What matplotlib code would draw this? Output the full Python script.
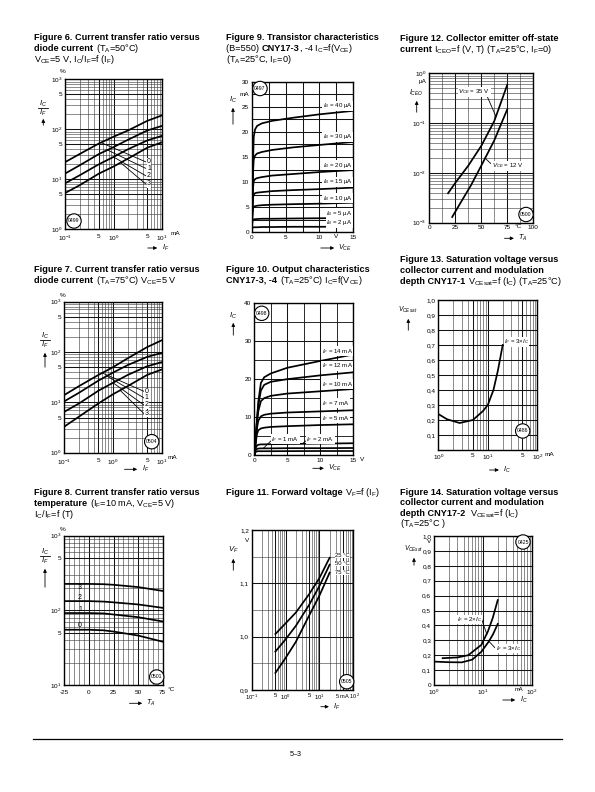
import numpy as np
import matplotlib
matplotlib.use('Agg')
import matplotlib.pyplot as plt
from matplotlib.ticker import FixedLocator, FixedFormatter, NullFormatter, LogLocator, MultipleLocator
from matplotlib.transforms import blended_transform_factory
from matplotlib.patches import FancyArrowPatch
from matplotlib.lines import Line2D

# ---------------- data ----------------
# Figure 6: CTR vs I_F at 50 C (groups 0..3)
f6_if = [0.1, 0.2, 0.5, 1, 2, 5, 10]
f6_ctr0 = [22, 32, 52, 71, 95, 148, 190]
f6_ctr1 = [13, 19, 32, 44, 62, 95, 117]
f6_ctr2 = [8.3, 12, 20, 28, 40, 60, 74]
f6_ctr3 = [5.3, 7.6, 13, 18, 26, 43, 55]
f6_groups = ['0', '1', '2', '3']

# Figure 7: CTR vs I_F at 75 C
f7_if = [0.1, 0.2, 0.5, 1, 2, 5, 10]
f7_ctr0 = [14, 21, 35, 50, 75, 125, 171]
f7_ctr1 = [10.5, 15.5, 27, 39, 55, 80, 96]
f7_ctr2 = [6.5, 9.5, 17, 24.5, 35, 52, 63]
f7_ctr3 = [3.3, 5.2, 9.5, 14.5, 21, 35, 45]
f7_groups = ['0', '1', '2', '3']

# Figure 8: CTR vs temperature
f8_t = [-25, 0, 15, 25, 50, 75]
f8_ctr3 = [226, 226, 224, 220, 205, 182]
f8_ctr2 = [133, 133, 131, 128, 120, 108]
f8_ctr1 = [92, 92, 91, 88, 81, 71]
f8_ctr0 = [55, 55, 54, 52, 46, 38]
f8_groups = ['3', '2', '1', '0']

# Figure 9: transistor characteristics I_C vs V_CE
f9_vce = [0, 0.1, 0.2, 0.3, 0.5, 0.8, 1.5, 3, 6, 10, 15]
f9_ib40 = [0, 6, 14, 19, 20.5, 21.2, 21.7, 22.2, 22.8, 23.5, 24.2]
f9_ib30 = [0, 6, 12, 14.5, 15.3, 15.7, 16.0, 16.4, 16.9, 17.4, 18.0]
f9_ib20 = [0, 5, 9, 10.2, 10.6, 10.8, 11.0, 11.3, 11.6, 12.0, 12.4]
f9_ib15 = [0, 4, 7, 7.5, 7.8, 7.9, 8.0, 8.2, 8.4, 8.6, 8.9]
f9_ib10 = [0, 3, 4.8, 5.1, 5.2, 5.3, 5.4, 5.5, 5.6, 5.7, 5.9]
f9_ib5 = [0, 2, 2.5, 2.6, 2.6, 2.65, 2.7, 2.7, 2.75, 2.8, 2.85]
f9_ib2 = [0, 0.9, 1.0, 1.0, 1.0, 1.0, 1.05, 1.05, 1.1, 1.1, 1.1]
f9_ib_labels = ['40', '30', '20', '15', '10', '5', '2']

# Figure 10: output characteristics
f10_vce = [0, 0.2, 0.4, 0.6, 1, 1.5, 2.5, 5, 10, 15]
f10_if14 = [0, 4, 9, 14, 19, 20.5, 21.5, 23, 24.8, 26.5]
f10_if12 = [0, 4, 9, 13, 17, 18.5, 19.3, 20.0, 21.0, 21.8]
f10_if10 = [0, 4, 8.5, 11.5, 14.2, 15.0, 15.6, 16.2, 16.8, 17.4]
f10_if7 = [0, 3.5, 7, 9, 10.2, 10.6, 10.9, 11.2, 11.5, 11.8]
f10_if5 = [0, 3, 5.5, 6.5, 7.0, 7.2, 7.4, 7.6, 7.9, 8.1]
f10_if2 = [0, 1.8, 2.5, 2.7, 2.8, 2.8, 2.85, 2.9, 3.0, 3.1]
f10_if1 = [0, 1.2, 1.6, 1.7, 1.75, 1.75, 1.75, 1.8, 1.8, 1.85]
f10_if05 = [0, 0.8, 0.95, 1.0, 1.0, 1.0, 1.0, 1.02, 1.05, 1.05]
f10_labels = ['14', '12', '10', '7', '5']

# Figure 11: forward voltage
f11_if = [0.5, 1, 2, 5, 10, 20]
f11_v25 = [1.005, 1.025, 1.045, 1.08, 1.11, 1.148]
f11_v50 = [0.972, 0.995, 1.02, 1.06, 1.095, 1.135]
f11_v75 = [0.932, 0.96, 0.99, 1.04, 1.077, 1.12]
f11_temps = ['25 °C', '50 °C', '75 °C']

# Figure 12: collector emitter off-state current
f12_t35 = [18, 25, 37.5, 50, 62.5, 75]
f12_i35 = [0.0039, 0.0063, 0.014, 0.035, 0.11, 0.59]
f12_t12 = [22, 30, 40, 50, 62.5, 75]
f12_i12 = [0.0013, 0.0025, 0.0056, 0.014, 0.045, 0.19]

# Figure 13: saturation voltage CNY17-1
f13_ic = [1, 1.5, 2.7, 5, 8, 10, 13, 16, 20]
f13_v = [0.24, 0.205, 0.18, 0.2, 0.26, 0.3, 0.4, 0.53, 0.7]

# Figure 14: saturation voltage CNY17-2
f14_ic2 = [1.5, 3, 5, 9.3, 12.6, 15.8, 20]
f14_v2 = [0.18, 0.185, 0.2, 0.27, 0.36, 0.45, 0.57]
f14_ic3 = [1, 2, 3.7, 6, 9.3, 13, 16, 20]
f14_v3 = [0.157, 0.153, 0.152, 0.17, 0.224, 0.29, 0.34, 0.41]

# ---------------- setup ----------------
W, H = 595, 792
plt.rcParams['font.family'] = ['Liberation Sans', 'DejaVu Sans']
plt.rcParams['mathtext.fontset'] = 'custom'
plt.rcParams['mathtext.rm'] = 'Liberation Sans'
plt.rcParams['mathtext.it'] = 'Liberation Sans:italic'
plt.rcParams['mathtext.bf'] = 'Liberation Sans:bold'

fig = plt.figure(figsize=(W / 100, H / 100), dpi=100)
renderer = fig.canvas.get_renderer()

TS = 6.6      # title font size
TL = 4.6      # tick label size
LS = 4.4      # in-plot label size


def P(x, y):
    return (x / W, 1 - y / H)


def sub(s):
    return r'$_\mathregular{' + s + '}$'


def pw(e):
    return r'10$^{\mathregular{' + str(e) + '}}$'


def twidth(s, weight, size):
    t = fig.text(0, 0, s + '|', fontsize=size, fontweight=weight)
    w1 = t.get_window_extent(renderer).width
    t.set_text('|')
    w2 = t.get_window_extent(renderer).width
    t.remove()
    return w1 - w2


def rich(x, y, parts, size=TS):
    for s, w in parts:
        fig.text(*P(x, y), s, fontsize=size, fontweight=w, va='baseline', ha='left')
        x += twidth(s, w, size)


def title(x, y, lines, dy=11.2):
    for i, ln in enumerate(lines):
        rich(x, y + i * dy, ln)


def add_ax(l, t, r, b):
    return fig.add_axes([l / W, 1 - b / H, (r - l) / W, (b - t) / H])


def style(ax):
    ax.tick_params(which='both', length=0, labelsize=TL, pad=2)
    for s in ax.spines.values():
        s.set_linewidth(1.0)
    ax.grid(which='major', color='0.08', lw=0.75)
    ax.grid(which='minor', color='0.2', lw=0.4)
    ax.set_axisbelow(True)


def logminor(axis):
    axis.set_minor_locator(LogLocator(base=10, subs=np.arange(2, 10)))
    axis.set_minor_formatter(NullFormatter())


def set_ticks(axis, vals, labs):
    axis.set_major_locator(FixedLocator(vals))
    axis.set_major_formatter(FixedFormatter(labs))


def arrow(x0, y0, x1, y1):
    fig.add_artist(FancyArrowPatch(P(x0, y0), P(x1, y1), transform=fig.transFigure,
                                   arrowstyle='-|>', mutation_scale=5, lw=0.6, color='k'))


def xlabel(x0, x1, y, txt):
    arrow(x0, y, x1, y)
    fig.text(*P(x1 + 1.5, y), txt, fontsize=5.2, ha='left', va='center')


def ylabel(x, y, txt, y0, y1, size=5.6):
    fig.text(*P(x, y), txt, fontsize=size, ha='center', va='center')
    arrow(x, y0, x, y1)


def frac_label(x, y, y0, y1):
    fig.text(*P(x, y - 4.2), r'$I_C$', fontsize=5.6, ha='center', va='center')
    fig.add_artist(Line2D([(x - 5) / W, (x + 5) / W], [1 - y / H] * 2, color='k', lw=0.6,
                          transform=fig.transFigure))
    fig.text(*P(x, y + 4.6), r'$I_F$', fontsize=5.6, ha='center', va='center')
    arrow(x, y0, x, y1)


def circ(x, y, txt):
    fig.text(*P(x, y), txt, fontsize=3.7, ha='center', va='center',
             bbox=dict(boxstyle='circle,pad=0.28', fc='white', ec='k', lw=0.8), zorder=10)


def xunit(ax, xd, txt, size=TL, ha='left'):
    tr = blended_transform_factory(ax.transData, ax.transAxes)
    ax.text(xd, -0.012, txt, transform=tr, fontsize=size, ha=ha, va='top')


def yunit(ax, yd, txt):
    tr = blended_transform_factory(ax.transAxes, ax.transData)
    ax.text(-0.025, yd, txt, transform=tr, fontsize=TL, ha='right', va='center')


def on_curve_log(x0, xs, ys):
    return 10 ** np.interp(np.log10(x0), np.log10(xs), np.log10(ys))


comma = lambda v: ('%.1f' % v).replace('.', ',')
lw_c = 1.25
wbox = dict(fc='white', ec='none', pad=0.4)
wbox_s = dict(fc='white', ec='none', pad=0.15)

# ---------------- titles ----------------
title(34, 40, [[('Figure 6. Current transfer ratio versus', 'bold')],
               [('diode current ', 'bold'), ('(T' + sub('A') + '=50°C)', 'normal')],
               [('V' + sub('CE') + '=5 V, I' + sub('C') + '/I' + sub('F') + '=f (I' + sub('F') + ')', 'normal')]])
title(226, 40, [[('Figure 9. Transistor characteristics', 'bold')],
                [('(B=550) ', 'normal'), ('CNY17-3', 'bold'), (', -4 I' + sub('C') + '=f(V' + sub('CE') + ')', 'normal')],
                [('(T' + sub('A') + '=25°C, I' + sub('F') + '=0)', 'normal')]])
title(400, 41, [[('Figure 12. Collector emitter off-state', 'bold')],
                [('current ', 'bold'), ('I' + sub('CEO') + '=f (V, T) (T' + sub('A') + '=25°C, I' + sub('F') + '=0)', 'normal')]])
title(34, 271.5, [[('Figure 7. Current transfer ratio versus', 'bold')],
                  [('diode current ', 'bold'), ('(T' + sub('A') + '=75°C) V' + sub('CE') + '=5 V', 'normal')]])
title(226, 271.5, [[('Figure 10. Output characteristics', 'bold')],
                   [('CNY17-3, -4 ', 'bold'), ('(T' + sub('A') + '=25°C) I' + sub('C') + '=f(V' + sub('CE') + ')', 'normal')]])
title(400, 262, [[('Figure 13. Saturation voltage versus', 'bold')],
                 [('collector current and modulation', 'bold')],
                 [('depth CNY17-1 ', 'bold'), ('V' + sub('CEsat') + '=f (I' + sub('C') + ') (T' + sub('A') + '=25°C)', 'normal')]])
title(34, 495, [[('Figure 8. Current transfer ratio versus', 'bold')],
                [('temperature ', 'bold'), ('(I' + sub('F') + '=10 mA, V' + sub('CE') + '=5 V)', 'normal')],
                [('I' + sub('C') + '/I' + sub('F') + '=f (T)', 'normal')]])
title(226, 495, [[('Figure 11. Forward voltage ', 'bold'), ('V' + sub('F') + '=f (I' + sub('F') + ')', 'normal')]])
title(400, 495, [[('Figure 14. Saturation voltage versus', 'bold')],
                 [('collector current and modulation', 'bold')],
                 [('depth CNY17-2  ', 'bold'), ('V' + sub('CEsat') + '=f (I' + sub('C') + ')', 'normal')],
                 [('(T' + sub('A') + '=25°C )', 'normal')]], dy=10.4)

# ---------------- Figure 6 ----------------
ax = add_ax(65, 79.3, 162, 229.3)
ax.set_xscale('log'); ax.set_yscale('log')
ax.set_xlim(0.1, 10); ax.set_ylim(1, 1000)
style(ax)
ax.tick_params(axis='x', pad=3.5)
set_ticks(ax.xaxis, [0.1, 0.5, 1, 5, 10], [pw(-1), '5', pw(0), '5', pw(1)])
set_ticks(ax.yaxis, [1, 5, 10, 50, 100, 500, 1000], [pw(0), '5', pw(1), '5', pw(2), '5', pw(3)])
logminor(ax.xaxis); logminor(ax.yaxis)
curves6 = [f6_ctr0, f6_ctr1, f6_ctr2, f6_ctr3]
for c in curves6:
    ax.plot(f6_if, c, color='k', lw=lw_c)
for c, g, xs, ly in zip(curves6, f6_groups, [0.55, 0.75, 1.0, 1.4], [22.4, 16.6, 11.8, 8.1]):
    ax.plot([xs, 4.6], [on_curve_log(xs, f6_if, c), ly], color='k', lw=0.6)
    ax.text(5.4, ly, g, fontsize=LS + 0.6, ha='center', va='center', bbox=wbox_s)
xunit(ax, 15, 'mA')
ax.text(-0.02, 1.05, '%', transform=ax.transAxes, fontsize=TL, ha='center', va='center')
frac_label(43.3, 108, 128, 116)
xlabel(145, 160, 248, r'$I_F$')
circ(74, 221, '0499')

# ---------------- Figure 7 ----------------
ax = add_ax(64.3, 301.7, 161.7, 452.7)
ax.set_xscale('log'); ax.set_yscale('log')
ax.set_xlim(0.1, 10); ax.set_ylim(1, 1000)
style(ax)
ax.tick_params(axis='x', pad=3.5)
set_ticks(ax.xaxis, [0.1, 0.5, 1, 5, 10], [pw(-1), '5', pw(0), '5', pw(1)])
set_ticks(ax.yaxis, [1, 5, 10, 50, 100, 500, 1000], [pw(0), '5', pw(1), '5', pw(2), '5', pw(3)])
logminor(ax.xaxis); logminor(ax.yaxis)
curves7 = [f7_ctr0, f7_ctr1, f7_ctr2, f7_ctr3]
for c in curves7:
    ax.plot(f7_if, c, color='k', lw=lw_c)
for c, g, xs, ly in zip(curves7, f7_groups, [0.6, 0.75, 1.0, 1.4], [16.6, 12.3, 8.9, 6.0]):
    ax.plot([xs, 4.3], [on_curve_log(xs, f7_if, c), ly], color='k', lw=0.6)
    ax.text(4.9, ly, g, fontsize=LS + 0.6, ha='center', va='center', bbox=wbox_s)
xunit(ax, 13, 'mA')
ax.text(-0.02, 1.04, '%', transform=ax.transAxes, fontsize=TL, ha='center', va='center')
frac_label(45, 340, 370, 350)
xlabel(121.7, 140, 469.3, r'$I_F$')
circ(151.7, 441.7, '0504')

# ---------------- Figure 8 ----------------
ax = add_ax(64.3, 535.7, 162.7, 685)
ax.set_yscale('log')
ax.set_xlim(-25, 75); ax.set_ylim(10, 1000)
style(ax)
ax.tick_params(axis='x', pad=3.5)
set_ticks(ax.xaxis, [-25, 0, 25, 50, 75], ['-25', '0', '25', '50', '75'])
ax.xaxis.set_minor_locator(MultipleLocator(5))
set_ticks(ax.yaxis, [10, 50, 100, 500, 1000], [pw(1), '5', pw(2), '5', pw(3)])
logminor(ax.yaxis)
for c, g, ly in zip([f8_ctr3, f8_ctr2, f8_ctr1, f8_ctr0], f8_groups, [204, 150, 104, 62]):
    ax.plot(f8_t, c, color='k', lw=lw_c)
    ax.text(-9, ly, g, fontsize=LS + 0.6, ha='center', va='center')
xunit(ax, 80, '°C')
ax.text(-0.02, 1.04, '%', transform=ax.transAxes, fontsize=TL, ha='center', va='center')
frac_label(45, 556, 590, 566)
xlabel(126.7, 145, 703.3, r'$T_A$')
circ(156.7, 677, '0501')

# ---------------- Figure 9 ----------------
ax = add_ax(251.7, 81.7, 353.3, 232.3)
ax.set_xlim(0, 15); ax.set_ylim(0, 30)
style(ax)
ax.xaxis.set_major_locator(MultipleLocator(5)); ax.xaxis.set_minor_locator(MultipleLocator(2.5))
ax.yaxis.set_major_locator(MultipleLocator(5)); ax.yaxis.set_minor_locator(MultipleLocator(2.5))
ax.grid(which='minor', color='0.08', lw=0.75)
curves9 = [f9_ib40, f9_ib30, f9_ib20, f9_ib15, f9_ib10, f9_ib5, f9_ib2]
for c, lab, ly in zip(curves9, f9_ib_labels, [25.2, 19.0, 13.4, 10.1, 6.8, 3.8, 1.9]):
    ax.plot(f9_vce, c, color='k', lw=lw_c)
    ax.text(14.9, ly, r'$I_B$ = ' + lab + ' µA', fontsize=LS, ha='right', va='center', bbox=wbox)
xunit(ax, 12.2, 'V')
yunit(ax, 27.5, 'mA')
ylabel(233, 100, r'$I_C$', 127, 105)
xlabel(318, 337, 248, r'$V_{CE}$')
circ(260, 88.5, '0497')

# ---------------- Figure 10 ----------------
ax = add_ax(254.3, 303.3, 353.3, 455)
ax.set_xlim(0, 15); ax.set_ylim(0, 40)
style(ax)
ax.xaxis.set_major_locator(MultipleLocator(5)); ax.xaxis.set_minor_locator(MultipleLocator(2.5))
ax.yaxis.set_major_locator(MultipleLocator(10)); ax.yaxis.set_minor_locator(MultipleLocator(5))
ax.grid(which='minor', color='0.1', lw=0.65)
curves10 = [f10_if14, f10_if12, f10_if10, f10_if7, f10_if5]
for c, lab, ly in zip(curves10, f10_labels, [27.4, 23.5, 18.6, 13.6, 9.7]):
    ax.plot(f10_vce, c, color='k', lw=lw_c)
    ax.text(10.2, ly, r'$I_F$ = ' + lab + ' mA', fontsize=LS, ha='left', va='center', bbox=wbox)
for c in [f10_if2, f10_if1, f10_if05]:
    ax.plot(f10_vce, c, color='k', lw=lw_c)
ax.text(7.9, 4.2, r'$I_F$ = 2 mA', fontsize=LS, ha='left', va='center', bbox=wbox)
ax.plot([7.8, 7.3], [3.7, 3.0], color='k', lw=0.6)
ax.text(2.6, 4.2, r'$I_F$ = 1 mA', fontsize=LS, ha='left', va='center', bbox=wbox)
ax.plot([2.5, 1.4], [3.7, 1.8], color='k', lw=0.6)
ax.set_xticks([0, 5, 10, 15])
xunit(ax, 16.0, 'V')
ylabel(233.3, 316, r'$I_C$', 338, 320)
xlabel(310, 326.7, 468.3, r'$V_{CE}$')
circ(261.7, 313.3, '0498')

# ---------------- Figure 11 ----------------
ax = add_ax(251.7, 530, 353.3, 690)
ax.set_xscale('log')
ax.set_xlim(0.1, 100); ax.set_ylim(0.9, 1.2)
style(ax)
ax.tick_params(axis='x', labelsize=TL - 0.3)
set_ticks(ax.xaxis, [0.1, 0.5, 1, 5, 10, 50, 100], [pw(-1), '5', pw(0), '5', pw(1), '', ''])
logminor(ax.xaxis)
set_ticks(ax.yaxis, [0.9, 1.0, 1.1, 1.2], ['0,9', '1,0', '1,1', '1,2'])
ax.yaxis.set_minor_locator(MultipleLocator(0.05))
for c, lab, ly in zip([f11_v25, f11_v50, f11_v75], f11_temps, [1.153, 1.137, 1.120]):
    ax.plot(f11_if, c, color='k', lw=lw_c)
    ax.text(29, ly, lab, fontsize=LS - 0.2, ha='left', va='center', bbox=dict(fc='white', ec='none', pad=0.05))
xunit(ax, 69, '5 mA ' + pw(2), size=TL - 0.5, ha='center')
yunit(ax, 1.18, 'V')
ylabel(233.3, 550, r'$V_F$', 573, 556)
xlabel(318, 331.7, 706.7, r'$I_F$')
circ(346.7, 681.7, '0505')

# ---------------- Figure 12 ----------------
ax = add_ax(429.3, 73.3, 533.3, 222.7)
ax.set_yscale('log')
ax.set_xlim(0, 100); ax.set_ylim(1e-3, 1)
style(ax)
set_ticks(ax.xaxis, [0, 25, 50, 75, 100], ['0', '25', '50', '75', '100'])
ax.xaxis.set_minor_locator(MultipleLocator(12.5))
set_ticks(ax.yaxis, [1e-3, 1e-2, 1e-1, 1], [pw(-3), pw(-2), pw(-1), pw(0)])
logminor(ax.yaxis)
ax.plot(f12_t35, f12_i35, color='k', lw=lw_c)
ax.plot(f12_t12, f12_i12, color='k', lw=lw_c)
ax.text(28, 0.43, r'$V_{CE}$ = 35 V', fontsize=LS, ha='left', va='center', bbox=wbox)
ax.plot([55, 64], [0.37, on_curve_log(64, f12_t35, f12_i35)], color='k', lw=0.6)
ax.text(60, 0.0138, r'$V_{CE}$ = 12 V', fontsize=LS, ha='left', va='center', bbox=wbox)
ax.plot([59, 53.5], [0.0155, on_curve_log(53.5, f12_t12, f12_i12)], color='k', lw=0.6)
xunit(ax, 86, '°C', ha='center')
yunit(ax, 10 ** -0.16, 'µA')
ylabel(416.7, 93, r'$I_{CEO}$', 115, 98, size=5.0)
xlabel(501.7, 516.7, 238.3, r'$T_A$')
circ(526, 214.5, '0500')

# ---------------- Figure 13 ----------------
ax = add_ax(438.3, 300, 537.3, 450)
ax.set_xscale('log')
ax.set_xlim(1, 100); ax.set_ylim(0, 1.0)
style(ax)
set_ticks(ax.xaxis, [1, 5, 10, 50, 100], [pw(0), '5', pw(1), '5', pw(2)])
logminor(ax.xaxis)
yv = [0.1 * i for i in range(1, 11)]
set_ticks(ax.yaxis, yv, [comma(v) for v in yv])
ax.plot(f13_ic, f13_v, color='k', lw=lw_c)
ax.text(21, 0.72, r'$I_F$ = 3×$I_C$', fontsize=LS, ha='left', va='center', bbox=wbox_s)
xunit(ax, 140, 'mA')
ylabel(408.3, 310, r'$V_{CE\,sat}$', 333, 316, size=4.8)
xlabel(486.7, 501.7, 470, r'$I_C$')
circ(522.7, 431, '0486')

# ---------------- Figure 14 ----------------
ax = add_ax(434, 536, 532, 685)
ax.set_xscale('log')
ax.set_xlim(1, 100); ax.set_ylim(0, 1.0)
style(ax)
set_ticks(ax.xaxis, [1, 10, 100], [pw(0), pw(1), pw(2)])
logminor(ax.xaxis)
yv = [0.1 * i for i in range(0, 11)]
set_ticks(ax.yaxis, yv, ['0'] + [comma(v) for v in yv[1:]])
ax.plot(f14_ic2, f14_v2, color='k', lw=lw_c)
ax.plot(f14_ic3, f14_v3, color='k', lw=lw_c)
ax.text(2.9, 0.44, r'$I_F$ = 2×$I_C$', fontsize=LS, ha='left', va='center', bbox=wbox_s)
ax.plot([9.4, 12.0], [0.44, 0.34], color='k', lw=0.6)
ax.text(18, 0.245, r'$I_F$ = 3×$I_C$', fontsize=LS, ha='left', va='center', bbox=wbox_s)
ax.plot([17.5, 13.5], [0.25, 0.29], color='k', lw=0.6)
xunit(ax, 55, 'mA', size=TL - 0.4, ha='center')
yunit(ax, 0.965, 'V')
fig.text(*P(423, 549), r'$V_{CEsat}$', fontsize=4.8, ha='right', va='center')
arrow(414, 568, 414, 555)
xlabel(500, 518, 700, r'$I_C$')
circ(523, 542, '0425')

# ---------------- footer ----------------
fig.add_artist(Line2D([33 / W, 562 / W], [1 - 739.3 / H] * 2, color='k', lw=0.9, transform=fig.transFigure))
fig.text(*P(296, 755), '5–3', fontsize=5.2, ha='center', va='center')

fig.savefig('out.png', dpi=100)
